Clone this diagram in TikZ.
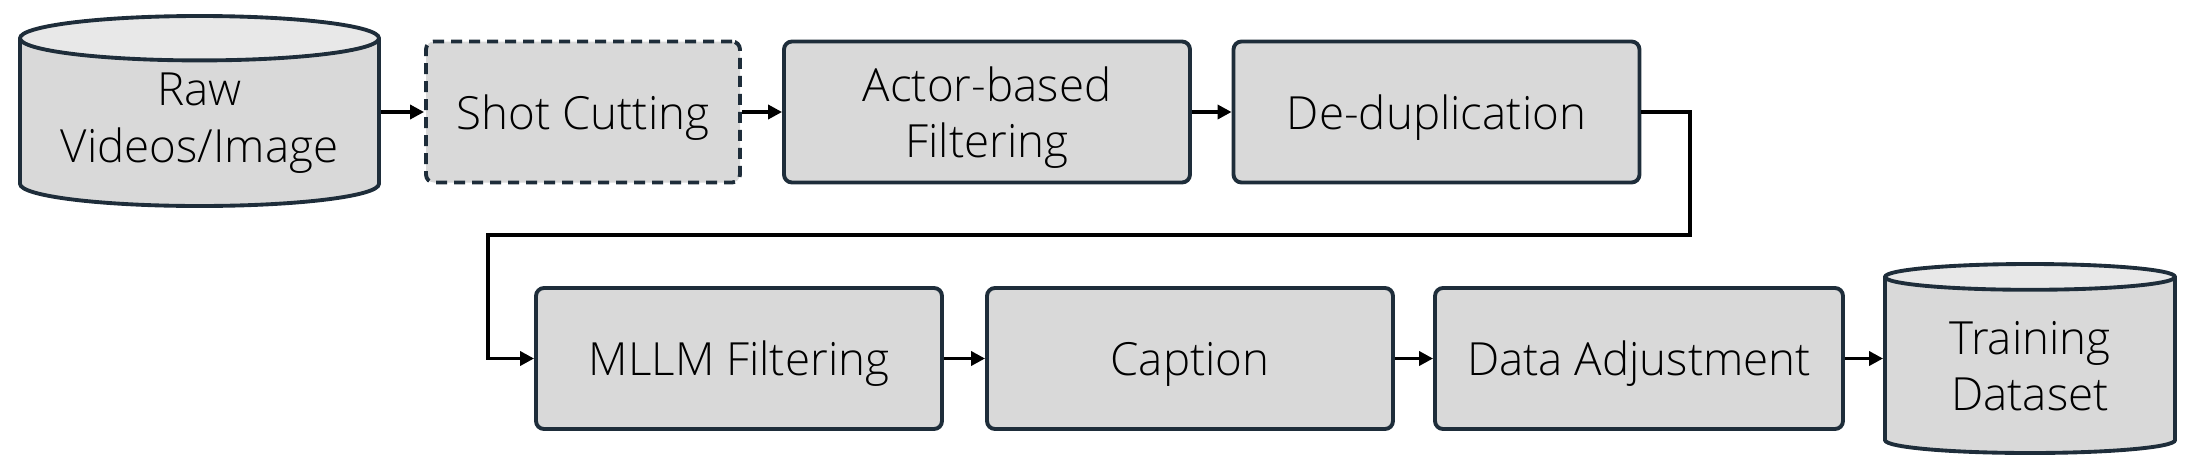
\documentclass[tikz,border=0pt]{standalone}
\usepackage{fontspec}
\IfFontExistsTF{Open Sans Light}{\setmainfont{Open Sans Light}}{\setmainfont{Open Sans}}
\usetikzlibrary{shapes.geometric,arrows.meta}
\definecolor{boxfill}{HTML}{D9D9D9}
\definecolor{topfill}{HTML}{E8E8E8}
\definecolor{rim}{HTML}{1E2D3A}
\begin{document}
\begin{tikzpicture}[
  stage/.style={draw=rim, line width=1.1pt, fill=boxfill, rounded corners=0.8mm,
    minimum width=4.06cm, minimum height=1.41cm, align=center, inner sep=0pt,
    text depth=0pt},
  store/.style={draw=rim, line width=1.1pt, cylinder, shape border rotate=90,
    aspect=0.16, cylinder uses custom fill, cylinder body fill=boxfill,
    cylinder end fill=topfill, align=center, inner sep=0pt, anchor=shape center},
  flow/.style={draw, line width=1.1pt, -{Triangle[length=1.4mm,width=1.4mm]}}
]
\useasboundingbox (0,0) rectangle (21.91,-4.73);
\fontsize{13}{16}\selectfont
% first row
\node[store, minimum width=3.59cm, minimum height=1.90cm] (raw) at (1.995,-1.11) {Raw\\Videos/Image};
\node[stage, dash pattern=on 1.1mm off 0.7mm, minimum width=3.14cm] (shot) at (5.83,-1.12) {Shot Cutting};
\node[stage] (actor) at (9.87,-1.12) {Actor-based\\Filtering};
\node[stage] (dedup) at (14.365,-1.12) {De-duplication};
% second row
\node[stage] (mllm) at (7.39,-3.585) {MLLM Filtering};
\node[stage] (caption) at (11.90,-3.585) {Caption};
\node[stage, minimum width=4.08cm] (adjust) at (16.39,-3.585) {Data Adjustment};
\node[store, minimum width=2.90cm, minimum height=1.89cm] (train) at (20.30,-3.585) {Training\\Dataset};
\coordinate (turnA) at (16.90,-2.35);
\coordinate (turnB) at (4.88,-2.35);
\path[flow] (shot.west -| raw.east) -- (shot.west);
\path[flow] (shot) -- (actor);
\path[flow] (actor) -- (dedup);
\path[flow] (dedup.east) -| (turnA) -- (turnB) |- (mllm.west);
\path[flow] (mllm) -- (caption);
\path[flow] (caption) -- (adjust);
\path[flow] (adjust.east) -- (adjust.east -| train.west);
\end{tikzpicture}
\end{document}
